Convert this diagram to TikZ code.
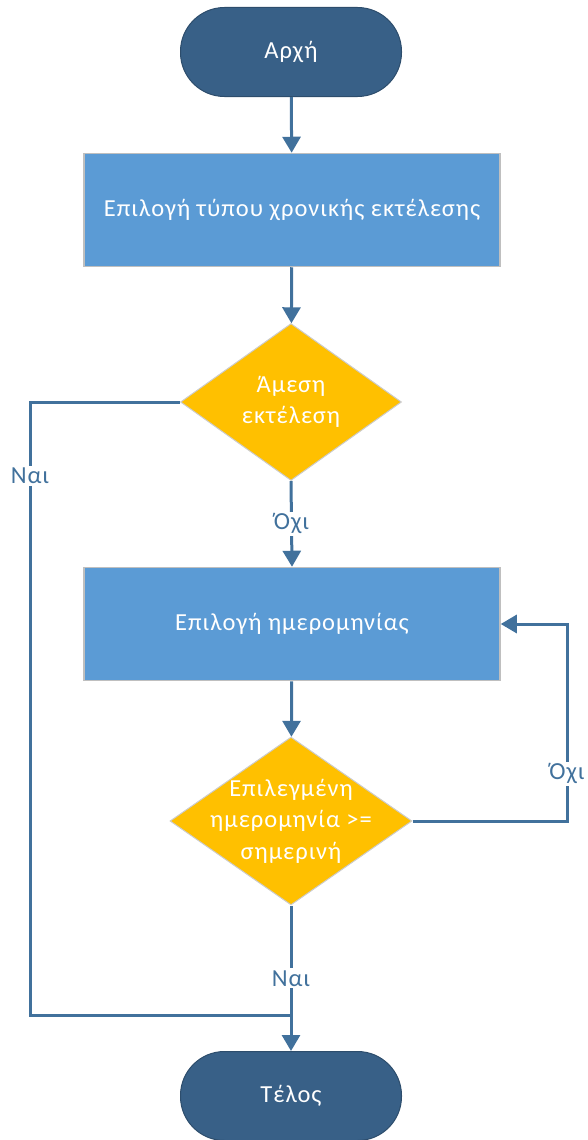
\documentclass[tikz,border=0pt]{standalone}
\usepackage{fontspec}
\setmainfont[LetterSpace=4]{Carlito}
\usetikzlibrary{arrows.meta, shapes.geometric}
\definecolor{termblue}{HTML}{386087}
\definecolor{boxblue}{HTML}{5B9BD5}
\definecolor{decgold}{HTML}{FFC000}
\definecolor{linkblue}{HTML}{41719C}

\begin{document}
\begin{tikzpicture}[x=1pt, y=-1pt,
		font=\fontsize{24.5}{31.5}\selectfont,
		terminal/.style={draw=termblue!80!black, line width=1pt, fill=termblue, text=white,
			rectangle, rounded corners=44pt, minimum width=221pt, minimum height=89pt},
		stepbox/.style={draw=black!25, line width=1.5pt, fill=boxblue, text=white,
			minimum width=416pt, minimum height=113pt},
		decision/.style={draw=black!20, line width=1pt, fill=decgold, text=white,
			diamond, align=center, inner sep=-100pt},
		link/.style={draw=linkblue, line width=3pt},
		tip/.style={link, -{Triangle[width=18pt,length=16pt]}},
		lbl/.style={fill=white, text=linkblue, inner sep=2pt}]
			\useasboundingbox (0,0) rectangle (588,1140);
			% nodes
			\node[terminal] (start) at (291,52) {Αρχή};
			\node[stepbox] (type) at (292,210) {Επιλογή τύπου χρονικής εκτέλεσης};
			\node[decision, minimum width=221pt, minimum height=157pt] (now) at (291,402) {Άμεση\\εκτέλεση};
			\node[stepbox] (date) at (292,624) {Επιλογή ημερομηνίας};
			\node[decision, minimum width=242pt, minimum height=168pt] (check) at (291,821) {Επιλεγμένη\\ημερομηνία >=\\σημερινή};
			\node[terminal] (stop) at (291,1096) {Τέλος};
			\coordinate (yescorner) at (30,1015);
			\coordinate (join) at (291,1015);
			\coordinate (nocorner) at (567,624);
			% connectors
			\draw[tip] (start) -- (type);
			\draw[tip] (type) -- (now);
			\draw[tip] (now.south) -- node[lbl]{Όχι} (date.north);
			\draw[tip] (date) -- (check);
			\draw[link] (now.west) -| node[lbl, pos=0.56]{Ναι} (yescorner) -- (join);
			\draw[tip] (check.east) -| node[lbl, pos=0.62]{Όχι} (nocorner) -- (date.east);
			\draw[tip] (check.south) -- node[lbl]{Ναι} (stop.north);
		\end{tikzpicture}
\end{document}
